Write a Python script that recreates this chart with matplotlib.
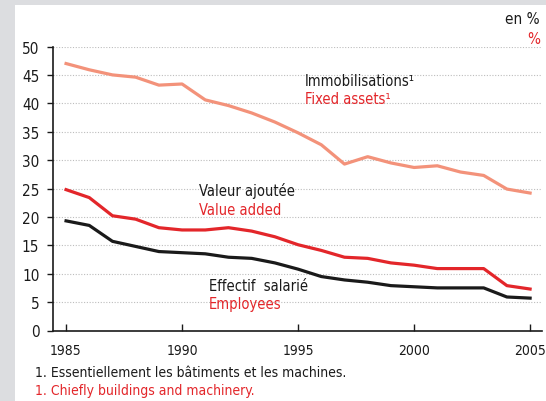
import matplotlib
matplotlib.use("Agg")
import matplotlib.pyplot as plt
from matplotlib.patches import Rectangle

plt.rcParams['font.family'] = ['DejaVu Sans']
plt.rcParams['font.stretch'] = 'condensed'

years = list(range(1985, 2006))
fixed_assets = [47.0, 45.9, 45.0, 44.6, 43.2, 43.4, 40.6, 39.6, 38.3, 36.7, 34.8,
                32.7, 29.3, 30.6, 29.5, 28.7, 29.0, 27.9, 27.3, 24.9, 24.2]
value_added = [24.8, 23.4, 20.2, 19.6, 18.1, 17.7, 17.7, 18.1, 17.5, 16.5, 15.1,
               14.1, 12.9, 12.7, 11.9, 11.5, 10.9, 10.9, 10.9, 7.9, 7.3]
employees = [19.3, 18.5, 15.7, 14.8, 13.9, 13.7, 13.5, 12.9, 12.7, 11.9, 10.8,
             9.5, 8.9, 8.5, 7.9, 7.7, 7.5, 7.5, 7.5, 5.9, 5.7]

yticks = list(range(0, 51, 5))
xticks = [1985, 1990, 1995, 2000, 2005]

SALMON = '#f3927a'
RED = '#e3262a'
BLACK = '#1a1a1a'
GRAY_BG = '#dcdde0'

fig = plt.figure(figsize=(5.46, 4.02), dpi=100, facecolor=GRAY_BG)
# white panel, grey strip left and top
fig.add_artist(Rectangle((15 / 546, 0), 1, 1 - 6 / 402, transform=fig.transFigure,
                         facecolor='white', edgecolor='none', zorder=-10))

ax = fig.add_axes([53.3 / 546, (402 - 331.5) / 402, (541.7 - 53.3) / 546, (331.5 - 47.5) / 402])
ax.set_facecolor('none')

ax.plot(years, fixed_assets, color=SALMON, lw=2.3)
ax.plot(years, value_added, color=RED, lw=2.3)
ax.plot(years, employees, color=BLACK, lw=2.3)

ax.set_ylim(0, 50)
ax.set_xlim(1984.45, 2005.5)
ax.set_yticks(yticks)
ax.set_xticks(xticks)
for y in yticks[1:]:
    ax.axhline(y, color='#bdbdbd', lw=0.8, ls=(0, (1, 1.5)), zorder=0)

for s in ['top', 'right']:
    ax.spines[s].set_visible(False)
for s in ['left', 'bottom']:
    ax.spines[s].set_linewidth(1.2)
    ax.spines[s].set_color(BLACK)

ax.tick_params(axis='y', direction='out', length=4, width=1, labelsize=11, pad=6, colors=BLACK)
ax.tick_params(axis='x', direction='in', length=5, width=1, labelsize=10, pad=9, colors=BLACK)

fs = 10.5
ax.text(1995.3, 44.0, 'Immobilisations¹', fontsize=fs, color=BLACK, va='center')
ax.text(1995.3, 40.9, 'Fixed assets¹', fontsize=fs, color=RED, va='center')
ax.text(1990.73, 24.8, 'Valeur ajoutée', fontsize=fs, color=BLACK, va='center')
ax.text(1990.73, 21.3, 'Value added', fontsize=fs, color=RED, va='center')
ax.text(1991.16, 8.0, 'Effectif  salarié', fontsize=fs, color=BLACK, va='center')
ax.text(1991.16, 4.7, 'Employees', fontsize=fs, color=RED, va='center')

fig.text(540 / 546, 1 - 19 / 402, 'en %', fontsize=11, color=BLACK, ha='right', va='center')
fig.text(540 / 546, 1 - 39 / 402, '%', fontsize=11, color=RED, ha='right', va='center')

fig.text(35 / 546, 1 - 373 / 402, '1. Essentiellement les bâtiments et les machines.',
         fontsize=10, color=BLACK, va='center')
fig.text(35 / 546, 1 - 391 / 402, '1. Chiefly buildings and machinery.',
         fontsize=10, color=RED, va='center')

fig.savefig('out.png', dpi=100, facecolor=fig.get_facecolor())
